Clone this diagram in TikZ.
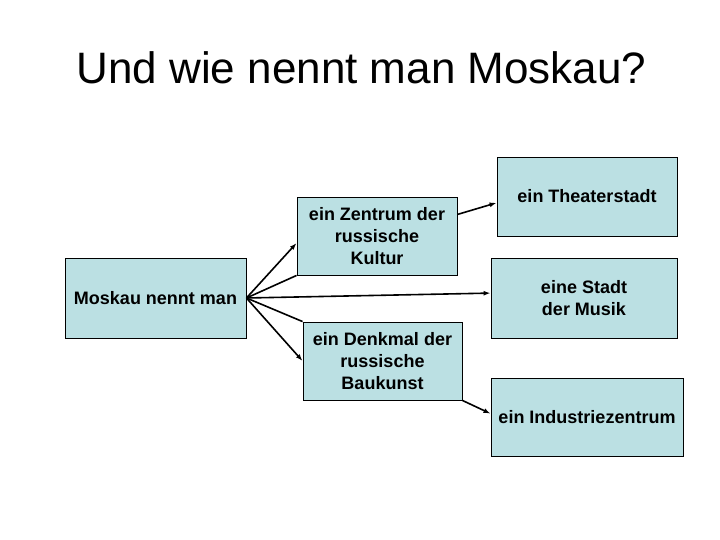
\documentclass[tikz,border=0pt]{standalone}
\usepackage{fontspec}
\setmainfont{Liberation Sans}
\usepackage{tikz}
\usetikzlibrary{arrows.meta}
\definecolor{boxFill}{RGB}{187,224,227}

\begin{document}
\begin{tikzpicture}[
    x=1pt, y=-1pt,
    title/.style={font=\fontsize{44}{50}\selectfont},
    term/.style={draw=black, line width=0.9pt, fill=boxFill, inner sep=0pt, align=center,
        font=\fontsize{18}{21.6}\selectfont\bfseries},
    arr/.style={-{Latex[length=7pt,width=5pt]}, line width=1.6pt},
    lnk/.style={line width=1.6pt}
]
\useasboundingbox (0,0) rectangle (720,540);

% Title.
\node[title] (head) at (361.5,68) {Und wie nennt man Moskau?};

% Source and targets.
\node[term, minimum width=181pt, minimum height=80pt] (moskau) at (155.5,298) {Moskau nennt man};
\node[term, minimum width=160pt, minimum height=78pt] (zentrum) at (377,236) {ein Zentrum der\\russische\\Kultur};
\node[term, minimum width=159pt, minimum height=78pt] (denkmal) at (382.5,361) {ein Denkmal der\\russische\\Baukunst};
\node[term, minimum width=180pt, minimum height=79pt] (theater) at (587,196.5) {ein Theaterstadt};
\node[term, minimum width=186pt, minimum height=80pt] (musik) at (584,298) {eine Stadt\\der Musik};
\node[term, minimum width=192pt, minimum height=78pt] (industrie) at (587,417) {ein Industriezentrum};

% Connectors.
\draw[arr] (moskau.east) -- (zentrum.185);
\draw[lnk] (moskau.east) -- (zentrum.south west);
\draw[arr] (moskau.east) -- (musik.177);
\draw[lnk] (moskau.east) -- (denkmal.north west);
\draw[arr] (moskau.east) -- (denkmal.west);
\draw[arr] (zentrum.15) -- (theater.184);
\draw[arr] (denkmal.south east) -- (industrie.178);
\end{tikzpicture}
\end{document}
